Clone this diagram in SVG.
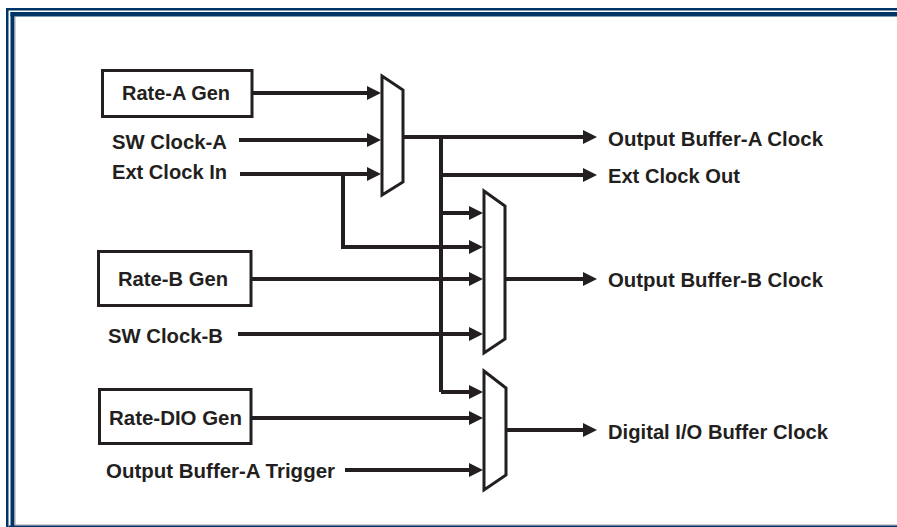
<svg xmlns="http://www.w3.org/2000/svg" width="897" height="527" viewBox="0 0 897 527">
<style>
.t{font-family:"Liberation Sans",Arial,sans-serif;font-weight:bold;font-size:21px;fill:#231f20}
.box{fill:#fff;stroke:#231f20;stroke-width:3}
.mux{fill:#fff;stroke:#231f20;stroke-width:3;stroke-linejoin:miter}
.w{fill:none;stroke:#231f20;stroke-width:4}
.a{marker-end:url(#ah)}
.b{fill:#003466}
</style>
<defs>
<marker id="ah" markerUnits="userSpaceOnUse" markerWidth="14" markerHeight="14" refX="2" refY="7" orient="auto">
<path d="M0,0 L14,7 L0,14 Z" fill="#231f20"/>
</marker>
</defs>
<rect width="897" height="527" fill="#fff"/>
<g id="border">
<rect class="b" x="6" y="8" width="891" height="2.5"/>
<rect class="b" x="10.5" y="12" width="886.5" height="4.5"/>
<rect class="b" x="6" y="8" width="2.5" height="519"/>
<rect class="b" x="10.5" y="12" width="4" height="515"/>
<rect x="14.5" y="16.5" width="1" height="509" fill="#a0a0a0"/>
<rect x="14.5" y="524.5" width="882.5" height="1" fill="#a0a0a0"/>
<rect class="b" x="8.5" y="525.5" width="888.5" height="1.5"/>
</g>
<g id="connectors">
<path class="w a" d="M253,93 H369"/>
<path class="w a" d="M239,140 H369"/>
<path class="w a" d="M240,174 H369"/>
<path class="w a" d="M343,174 V247 H471"/>
<path class="w a" d="M403,137 H585"/>
<path class="w" d="M441,137 V392"/>
<path class="w a" d="M441,175 H585"/>
<path class="w a" d="M441,213 H471"/>
<path class="w a" d="M441,392 H471"/>
<path class="w a" d="M252,279 H471"/>
<path class="w a" d="M238,334 H471"/>
<path class="w a" d="M505,279 H585"/>
<path class="w a" d="M252,418 H471"/>
<path class="w a" d="M345,470 H471"/>
<path class="w a" d="M506,430 H585"/>
</g>
<g id="rateA">
<rect class="box" x="102.5" y="70.5" width="149.5" height="46"/>
<text class="t" x="122" y="100" textLength="108" lengthAdjust="spacingAndGlyphs">Rate-A Gen</text>
</g>
<g id="swClockA"><text class="t" x="112" y="148.5" textLength="115" lengthAdjust="spacingAndGlyphs">SW Clock-A</text></g>
<g id="extClockIn"><text class="t" x="112" y="179" textLength="115" lengthAdjust="spacingAndGlyphs">Ext Clock In</text></g>
<g id="muxA"><polygon class="mux" points="382,76 403,90 403,182 382,195"/></g>
<g id="outA"><text class="t" x="608" y="145.5" textLength="215" lengthAdjust="spacingAndGlyphs">Output Buffer-A Clock</text></g>
<g id="extOut"><text class="t" x="608" y="182.5" textLength="132" lengthAdjust="spacingAndGlyphs">Ext Clock Out</text></g>
<g id="rateB">
<rect class="box" x="98.5" y="251.5" width="152.5" height="54"/>
<text class="t" x="118" y="286" textLength="110" lengthAdjust="spacingAndGlyphs">Rate-B Gen</text>
</g>
<g id="swClockB"><text class="t" x="108" y="343" textLength="115" lengthAdjust="spacingAndGlyphs">SW Clock-B</text></g>
<g id="muxB"><polygon class="mux" points="484,191 505,206 505,339 484,353"/></g>
<g id="outB"><text class="t" x="608" y="286.5" textLength="215" lengthAdjust="spacingAndGlyphs">Output Buffer-B Clock</text></g>
<g id="rateDIO">
<rect class="box" x="99.5" y="389.5" width="151.5" height="54"/>
<text class="t" x="109" y="424.5" textLength="133" lengthAdjust="spacingAndGlyphs">Rate-DIO Gen</text>
</g>
<g id="trigA"><text class="t" x="106" y="477.5" textLength="229" lengthAdjust="spacingAndGlyphs">Output Buffer-A Trigger</text></g>
<g id="muxC"><polygon class="mux" points="484,371 506,388 506,475 484,490"/></g>
<g id="outDIO"><text class="t" x="608" y="438.5" textLength="220" lengthAdjust="spacingAndGlyphs">Digital I/O Buffer Clock</text></g>
</svg>
